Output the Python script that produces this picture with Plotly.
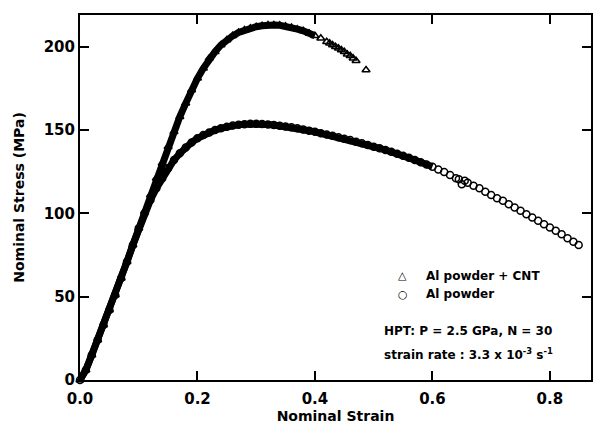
import plotly.graph_objects as go

# ---- data ----
cnt_strain = [0.0, 0.01, 0.02, 0.03, 0.04, 0.05, 0.06, 0.07, 0.08, 0.09, 0.10, 0.11, 0.12,
              0.13, 0.14, 0.15, 0.16, 0.17, 0.18, 0.19, 0.20, 0.21, 0.22, 0.23, 0.24, 0.25,
              0.26, 0.27, 0.28, 0.29, 0.30, 0.31, 0.32, 0.33, 0.34, 0.35, 0.36, 0.37, 0.38,
              0.39, 0.40, 0.41, 0.42, 0.425, 0.43, 0.435, 0.44, 0.445, 0.45, 0.455, 0.46,
              0.465, 0.47, 0.487]
cnt_stress = [0.0, 6, 15, 24, 33, 42, 51, 61, 71, 81, 91, 101, 111,
              121, 130, 140, 149, 158, 166, 174, 181, 187, 193, 197, 201, 204,
              206.5, 208.5, 210, 211, 212, 212.5, 213, 213, 212.8, 212.3, 211.5, 210.5, 209.5,
              208, 206.5, 205, 203, 202, 201, 200, 199, 198, 197, 195.5, 194.5,
              193, 191.5, 186]

al_strain = [0.0, 0.01, 0.02, 0.03, 0.04, 0.05, 0.06, 0.07, 0.08, 0.09, 0.10, 0.11, 0.12,
             0.13, 0.14, 0.15, 0.16, 0.17, 0.18, 0.19, 0.20, 0.21, 0.22, 0.23, 0.24, 0.25,
             0.26, 0.27, 0.28, 0.29, 0.30, 0.31, 0.32, 0.33, 0.34, 0.35, 0.36, 0.37, 0.38,
             0.39, 0.40, 0.41, 0.42, 0.43, 0.44, 0.45, 0.46, 0.47, 0.48, 0.49, 0.50, 0.51,
             0.52, 0.53, 0.54, 0.55, 0.56, 0.57, 0.58, 0.59, 0.60, 0.61, 0.62, 0.63, 0.64,
             0.645, 0.65, 0.655, 0.66, 0.67, 0.68, 0.69, 0.70, 0.71, 0.72, 0.73, 0.74, 0.75,
             0.76, 0.77, 0.78, 0.79, 0.80, 0.81, 0.82, 0.83, 0.84, 0.849]
al_stress = [0.0, 6, 15, 24, 33, 42, 51, 61, 71, 81, 91, 100, 108,
             115, 121, 127, 132, 136, 139.5, 142.5, 145, 147, 148.5, 150, 151, 152,
             152.7, 153.2, 153.5, 153.7, 153.7, 153.6, 153.3, 153, 152.6, 152.1, 151.6, 151, 150.3,
             149.6, 148.9, 148.1, 147.3, 146.5, 145.7, 144.8, 144, 143, 142, 141, 140, 139,
             138, 137, 135.8, 134.6, 133.4, 132, 130.7, 129.3, 128, 126.3, 124.8, 123, 121,
             120.5, 117.5, 119.5, 118.3, 116.5, 115, 113, 111, 109, 107.5, 105.5, 103.5, 101.5,
             99.5, 97.5, 95.5, 93.5, 91.5, 89.5, 87.5, 85, 83, 81]

x_ticks = [0.0, 0.2, 0.4, 0.6, 0.8]
x_tick_text = ["0.0", "0.2", "0.4", "0.6", "0.8"]
y_ticks = [0, 50, 100, 150, 200]
y_tick_text = ["0", "50", "100", "150", "200"]

legend_cnt = "Al powder + CNT"
legend_al = "Al powder"
note_1 = "HPT: P = 2.5 GPa, N = 30"
note_2 = "strain rate : 3.3 x 10<sup>-3</sup> s<sup>-1</sup>"

FONT = "DejaVu Sans"

# points so dense in the original that they merge into a solid band
n_band_cnt = sum(1 for s in cnt_strain if s <= 0.40)
n_band_al = sum(1 for s in al_strain if s <= 0.60)

fig = go.Figure()
fig.add_trace(go.Scatter(x=al_strain[:n_band_al], y=al_stress[:n_band_al], mode="lines",
                         line=dict(color="black", width=7), showlegend=False, hoverinfo="skip"))
fig.add_trace(go.Scatter(x=cnt_strain[:n_band_cnt], y=cnt_stress[:n_band_cnt], mode="lines",
                         line=dict(color="black", width=7), showlegend=False, hoverinfo="skip"))
fig.add_trace(go.Scatter(x=al_strain, y=al_stress, mode="markers", name=legend_al,
                         marker=dict(symbol="circle-open", size=7, color="black",
                                     line=dict(width=1.5, color="black")),
                         cliponaxis=False, showlegend=False))
fig.add_trace(go.Scatter(x=cnt_strain, y=cnt_stress, mode="markers", name=legend_cnt,
                         marker=dict(symbol="triangle-up-open", size=7, color="black",
                                     line=dict(width=1.5, color="black")),
                         cliponaxis=False, showlegend=False))

axis_common = dict(showline=True, linecolor="black", linewidth=2, mirror="ticks",
                   ticks="inside", ticklen=9, tickwidth=2, tickcolor="black",
                   showgrid=False, zeroline=False,
                   tickfont=dict(family=FONT, size=15, color="black", weight="bold"))

fig.update_xaxes(range=[0, 0.87], tickvals=x_ticks, ticktext=x_tick_text,
                 ticklabelstandoff=4,
                 title=dict(text="Nominal Strain", standoff=0,
                            font=dict(family=FONT, size=14, color="black", weight="bold")),
                 **axis_common)
fig.update_yaxes(range=[0, 219], tickvals=y_ticks, ticktext=y_tick_text,
                 title=dict(text="Nominal Stress (MPa)", standoff=16,
                            font=dict(family=FONT, size=14, color="black", weight="bold")),
                 **axis_common)

ann_font = dict(family=FONT, size=12, color="black", weight="bold")
annotations = [
    dict(x=0.6316, y=0.285, text="△", font=dict(family=FONT, size=11, color="black"),
         xanchor="center", yanchor="middle"),
    dict(x=0.6725, y=0.285, text=legend_cnt, font=ann_font, xanchor="left", yanchor="middle"),
    dict(x=0.6316, y=0.2356, text="○", font=dict(family=FONT, size=11, color="black"),
         xanchor="center", yanchor="middle"),
    dict(x=0.6725, y=0.2356, text=legend_al, font=ann_font, xanchor="left", yanchor="middle"),
    dict(x=0.5906, y=0.134, text=note_1, font=ann_font, xanchor="left", yanchor="middle"),
    dict(x=0.5906, y=0.072, text=note_2, font=ann_font, xanchor="left", yanchor="middle"),
]
for a in annotations:
    a.update(xref="paper", yref="paper", showarrow=False)

fig.update_layout(width=600, height=427, margin=dict(l=80, r=7, t=15, b=47),
                  paper_bgcolor="white", plot_bgcolor="white",
                  annotations=annotations, showlegend=False)

fig.write_html("out.html")
